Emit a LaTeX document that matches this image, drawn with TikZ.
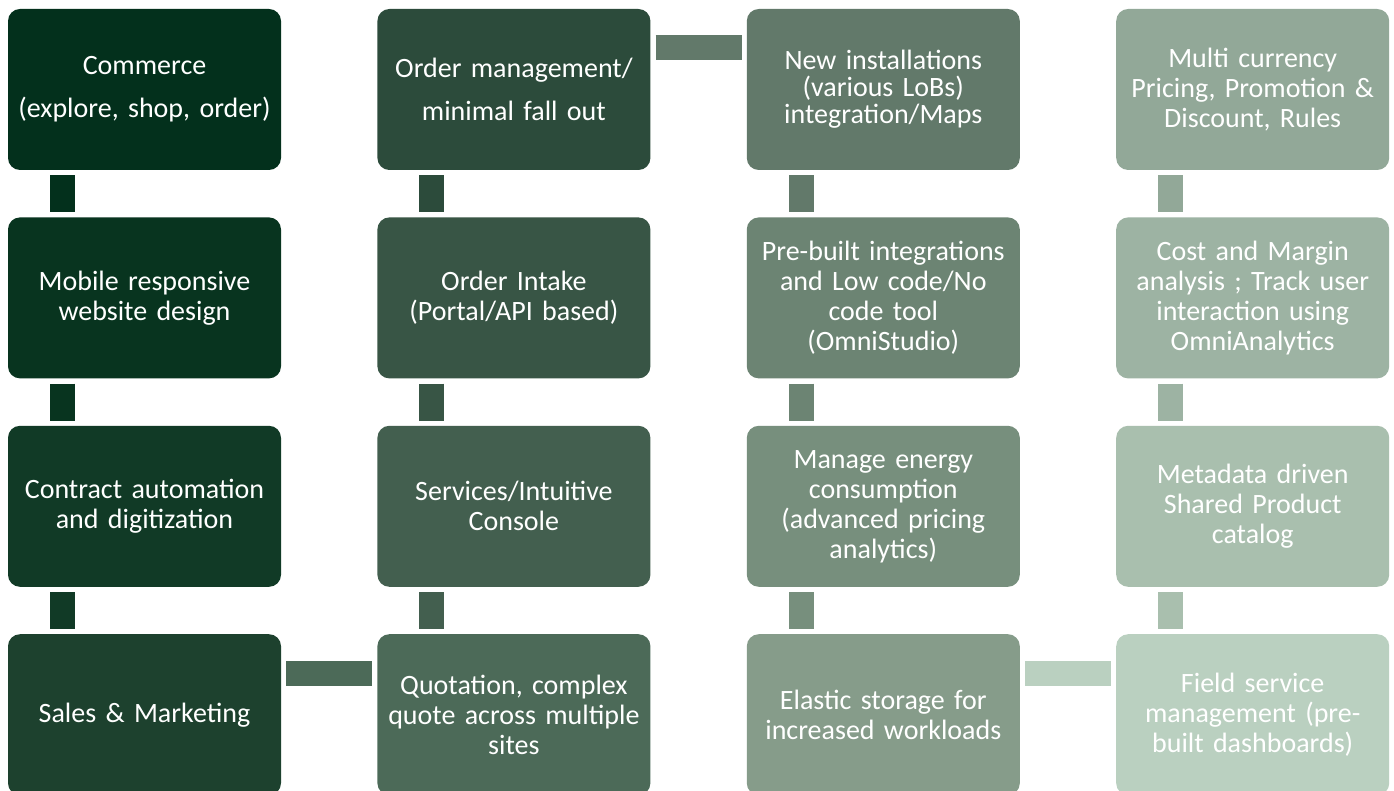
\documentclass[tikz,border=0pt]{standalone}
\usepackage{fontspec}
\setmainfont{Carlito}
\usetikzlibrary{positioning}
\definecolor{grn1}{HTML}{03301C}
\definecolor{grn2}{HTML}{08341F}
\definecolor{grn3}{HTML}{113A26}
\definecolor{grn4}{HTML}{1D412E}
\definecolor{grn5}{HTML}{2C4B3B}
\definecolor{grn6}{HTML}{385545}
\definecolor{grn7}{HTML}{435F4F}
\definecolor{grn8}{HTML}{4C6A58}
\definecolor{grn9}{HTML}{62796A}
\definecolor{grn10}{HTML}{6C8473}
\definecolor{grn11}{HTML}{778F7D}
\definecolor{grn12}{HTML}{869C8A}
\definecolor{grn13}{HTML}{92A898}
\definecolor{grn14}{HTML}{9DB3A3}
\definecolor{grn15}{HTML}{A9BFAE}
\definecolor{grn16}{HTML}{BAD0C0}
\begin{document}
\begin{tikzpicture}[x=1pt, y=-1pt,
      blk/.style={rounded corners=12pt, inner sep=0pt,
                  minimum width=273pt, minimum height=161pt,
                  text width=268pt, align=center, text=white,
                  font=\fontsize{28}{30}\selectfont},
      link/.style={line width=25pt, shorten <=5pt, shorten >=5pt}
  ]
    \useasboundingbox[fill=white] (0,0) rectangle (1394,791);
    % column 1
    \node[blk, fill=grn1] (com) at (144.5,89.5) {Commerce\\[13pt](explore, shop, order)};
    \node[blk, fill=grn2, below=47pt of com] (mob) {Mobile responsive\\website design};
    \node[blk, fill=grn3, below=47pt of mob] (con) {Contract automation\\and digitization};
    \node[blk, fill=grn4, below=47pt of con] (sal) {Sales \& Marketing};
    % column 2
    \node[blk, fill=grn5, right=96pt of com] (ordm) {Order management/\\[13pt]minimal fall out};
    \node[blk, fill=grn6, below=47pt of ordm] (ordi) {Order Intake\\(Portal/API based)};
    \node[blk, fill=grn7, below=47pt of ordi] (srv) {Services/Intuitive\\Console};
    \node[blk, fill=grn8, below=47pt of srv] (quo) {Quotation, complex\\quote across multiple\\sites};
    % column 3
    \node[blk, fill=grn9, right=96pt of ordm, font=\fontsize{28}{27}\selectfont] (inst) {New installations\\(various LoBs)\\integration/Maps};
    \node[blk, fill=grn10, below=47pt of inst] (pre) {Pre-built integrations\\and Low code/No\\code tool\\(OmniStudio)};
    \node[blk, fill=grn11, below=47pt of pre] (nrg) {Manage energy\\consumption\\(advanced pricing\\analytics)};
    \node[blk, fill=grn12, below=47pt of nrg] (ela) {Elastic storage for\\increased workloads};
    % column 4
    \node[blk, fill=grn13, right=96pt of inst] (cur) {Multi currency\\Pricing, Promotion \&\\Discount, Rules};
    \node[blk, fill=grn14, below=47pt of cur] (cost) {Cost and Margin\\analysis ; Track user\\interaction using\\OmniAnalytics};
    \node[blk, fill=grn15, below=47pt of cost] (meta) {Metadata driven\\Shared Product\\catalog};
    \node[blk, fill=grn16, below=47pt of meta] (fld) {Field service\\management (pre-\\built dashboards)};
    % vertical links
    \draw[link, grn1] ([xshift=54.5pt]com.south west) -- ([xshift=54.5pt]mob.north west);
    \draw[link, grn2] ([xshift=54.5pt]mob.south west) -- ([xshift=54.5pt]con.north west);
    \draw[link, grn3] ([xshift=54.5pt]con.south west) -- ([xshift=54.5pt]sal.north west);
    \draw[link, grn5] ([xshift=54.5pt]ordm.south west) -- ([xshift=54.5pt]ordi.north west);
    \draw[link, grn6] ([xshift=54.5pt]ordi.south west) -- ([xshift=54.5pt]srv.north west);
    \draw[link, grn7] ([xshift=54.5pt]srv.south west) -- ([xshift=54.5pt]quo.north west);
    \draw[link, grn9] ([xshift=54.5pt]inst.south west) -- ([xshift=54.5pt]pre.north west);
    \draw[link, grn10] ([xshift=54.5pt]pre.south west) -- ([xshift=54.5pt]nrg.north west);
    \draw[link, grn11] ([xshift=54.5pt]nrg.south west) -- ([xshift=54.5pt]ela.north west);
    \draw[link, grn13] ([xshift=54.5pt]cur.south west) -- ([xshift=54.5pt]cost.north west);
    \draw[link, grn14] ([xshift=54.5pt]cost.south west) -- ([xshift=54.5pt]meta.north west);
    \draw[link, grn15] ([xshift=54.5pt]meta.south west) -- ([xshift=54.5pt]fld.north west);
    % horizontal links
    \draw[link, grn8] ([yshift=-39.5pt]sal.north east) -- ([yshift=-39.5pt]quo.north west);
    \draw[link, grn9] ([yshift=-38.5pt]ordm.north east) -- ([yshift=-38.5pt]inst.north west);
    \draw[link, grn16] ([yshift=-39.5pt]ela.north east) -- ([yshift=-39.5pt]fld.north west);
  \end{tikzpicture}
\end{document}
